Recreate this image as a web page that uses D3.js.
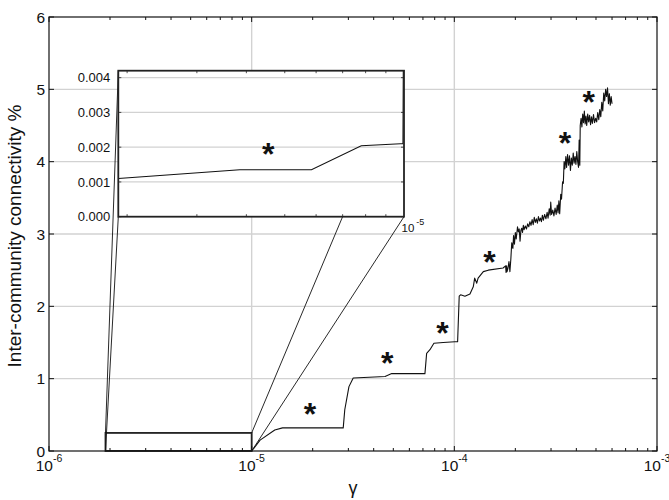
<!DOCTYPE html>
<html>
<head>
<meta charset="utf-8">
<script src="https://cdn.jsdelivr.net/npm/d3@7"></script>
<style>
  body { margin: 0; background: #fff; }
  svg { display: block; }
  text { font-family: "Liberation Sans", Arial, Helvetica, sans-serif; fill: #111; }
</style>
</head>
<body>
<svg id="chart" width="669" height="500"></svg>
<script>
// Resolution parameter sweep: inter-community connectivity (%) against gamma
const gammaValues = [
  1.9e-6, 3.85e-6, 5.84e-6, 7.8e-6, 9.8e-6, 9.94e-6, 1.02e-5, 1.1e-5, 1.3e-5, 1.42e-5,
  2.83e-5, 2.88e-5, 3.02e-5, 3.17e-5, 4.55e-5, 4.91e-5, 7.16e-5, 7.3e-5, 7.58e-5, 7.93e-5,
  8.81e-5, 1.006e-4, 1.038e-4, 1.057e-4, 1.074e-4, 1.128e-4, 1.194e-4, 1.24e-4, 1.26e-4, 1.29e-4,
  1.31e-4, 1.39e-4, 1.47e-4, 1.74e-4, 1.79e-4, 1.80e-4, 1.81e-4, 1.82e-4, 1.84e-4, 1.86e-4,
  1.88e-4, 1.90e-4, 1.92e-4, 1.945e-4, 1.96e-4, 1.98e-4, 2.00e-4, 2.02e-4, 2.05e-4, 2.07e-4,
  2.09e-4, 2.11e-4, 2.13e-4, 2.15e-4, 2.17e-4, 2.19e-4, 2.21e-4, 2.24e-4, 2.27e-4, 2.30e-4,
  2.33e-4, 2.36e-4, 2.39e-4, 2.42e-4, 2.45e-4, 2.48e-4, 2.51e-4, 2.54e-4, 2.57e-4, 2.60e-4,
  2.63e-4, 2.66e-4, 2.69e-4, 2.72e-4, 2.75e-4, 2.79e-4, 2.83e-4, 2.87e-4, 2.90e-4, 2.94e-4,
  2.97e-4, 2.99e-4, 3.02e-4, 3.06e-4, 3.10e-4, 3.14e-4, 3.18e-4, 3.22e-4, 3.25e-4, 3.28e-4,
  3.31e-4, 3.35e-4, 3.38e-4, 3.42e-4, 3.45e-4, 3.48e-4, 3.51e-4, 3.55e-4, 3.58e-4, 3.62e-4,
  3.66e-4, 3.70e-4, 3.74e-4, 3.78e-4, 3.82e-4, 3.86e-4, 3.90e-4, 3.94e-4, 3.98e-4, 4.02e-4,
  4.06e-4, 4.10e-4, 4.13e-4, 4.16e-4, 4.18e-4, 4.22e-4, 4.26e-4, 4.30e-4, 4.34e-4, 4.38e-4,
  4.42e-4, 4.46e-4, 4.50e-4, 4.55e-4, 4.60e-4, 4.65e-4, 4.70e-4, 4.75e-4, 4.80e-4, 4.86e-4,
  4.92e-4, 4.98e-4, 5.04e-4, 5.10e-4, 5.16e-4, 5.22e-4, 5.28e-4, 5.34e-4, 5.40e-4, 5.46e-4,
  5.52e-4, 5.58e-4, 5.64e-4, 5.70e-4, 5.76e-4, 5.82e-4, 5.88e-4, 5.94e-4, 6.00e-4
];
const connectivityValues = [
  0.0011, 0.00135, 0.00135, 0.00204, 0.0021, 0.0021, 0.03, 0.15, 0.29, 0.32,
  0.32, 0.57, 0.89, 1.01, 1.03, 1.07, 1.07, 1.35, 1.40, 1.49,
  1.50, 1.51, 1.51, 2.14, 2.16, 2.14, 2.17, 2.27, 2.39, 2.32,
  2.39, 2.48, 2.50, 2.53, 2.56, 2.47, 2.56, 2.48, 2.53, 2.62,
  2.48, 2.65, 2.88, 2.80, 2.98, 2.86, 3.02, 2.93, 3.10, 3.03,
  3.07, 2.90, 3.05, 3.08, 3.02, 3.12, 3.06, 3.11, 3.07, 3.14,
  3.10, 3.17, 3.12, 3.20, 3.13, 3.23, 3.16, 3.21, 3.15, 3.24,
  3.18, 3.22, 3.17, 3.26, 3.19, 3.27, 3.21, 3.30, 3.22, 3.35,
  3.26, 3.44, 3.27, 3.33, 3.25, 3.36, 3.27, 3.40, 3.29, 3.46,
  3.28, 3.55, 3.48, 3.72, 3.70, 4.00, 3.90, 4.07, 3.92, 4.10,
  3.95, 4.08, 3.88, 4.05, 3.95, 4.12, 3.98, 4.07, 3.96, 4.14,
  4.00, 3.92, 4.30, 3.95, 4.50, 4.60, 4.48, 4.66, 4.54, 4.70,
  4.52, 4.63, 4.50, 4.66, 4.55, 4.64, 4.51, 4.62, 4.53, 4.65,
  4.54, 4.60, 4.55, 4.68, 4.58, 4.72, 4.62, 4.82, 4.70, 4.95,
  4.84, 5.00, 4.90, 5.02, 4.80, 4.94, 4.78, 4.90, 4.80
];

// Asterisks marking the plateaus
const starGammas = [1.94e-5, 4.67e-5, 8.75e-5, 1.49e-4, 3.52e-4, 4.61e-4];
const starValues = [0.61, 1.32, 1.74, 2.72, 4.36, 4.93];
const insetStarGamma = [4.54e-6];
const insetStarValue = [0.00202];

// Axis ticks
const yTicks = [0, 1, 2, 3, 4, 5, 6];
const xTickExponents = [-6, -5, -4, -3];
const insetYTicks = [0, 0.001, 0.002, 0.003, 0.004];
const insetYTickLabels = ["0.000", "0.001", "0.002", "0.003", "0.004"];

// Zoomed region shown in the inset
const zoomGamma = [1.9e-6, 1e-5];
const zoomRange = [0, 0.25];
const insetRange = [0, 0.0042];

const svg = d3.select("#chart");

const x = d3.scaleLog().domain([1e-6, 1e-3]).range([49, 657]);
const y = d3.scaleLinear().domain([0, 6]).range([451, 17]);

const xi = d3.scaleLog().domain(zoomGamma).range([118.3, 404]);
const yi = d3.scaleLinear().domain(insetRange).range([216.7, 70.7]);

const data = gammaValues.map((g, i) => ({ g, v: connectivityValues[i] }));

const defs = svg.append("defs");
defs.append("clipPath").attr("id", "mainClip")
  .append("rect").attr("x", 49).attr("y", 17).attr("width", 608).attr("height", 434);
defs.append("clipPath").attr("id", "insetClip")
  .append("rect").attr("x", xi.range()[0]).attr("y", yi.range()[1])
  .attr("width", xi.range()[1] - xi.range()[0]).attr("height", yi.range()[0] - yi.range()[1]);

const gridColor = "#d2d2d2";

// Main grid
const grid = svg.append("g");
grid.selectAll("line.h").data(yTicks.slice(1, -1)).join("line")
  .attr("x1", x.range()[0]).attr("x2", x.range()[1])
  .attr("y1", d => y(d)).attr("y2", d => y(d))
  .attr("stroke", gridColor).attr("stroke-width", 1.4);
grid.selectAll("line.v").data(xTickExponents.slice(1, -1)).join("line")
  .attr("x1", d => x(Math.pow(10, d))).attr("x2", d => x(Math.pow(10, d)))
  .attr("y1", y.range()[0]).attr("y2", y.range()[1])
  .attr("stroke", gridColor).attr("stroke-width", 1.4);

// Main curve
const line = d3.line().x(d => x(d.g)).y(d => y(d.v));
svg.append("path").datum(data)
  .attr("clip-path", "url(#mainClip)")
  .attr("d", line).attr("fill", "none")
  .attr("stroke", "#111").attr("stroke-width", 1.1).attr("stroke-linejoin", "round");

// Asterisk markers
function drawStars(g, xs, ys, xScale, yScale) {
  const fs = 32;
  g.selectAll("text.star").data(xs.map((d, i) => [d, ys[i]])).join("text")
    .attr("class", "star")
    .attr("x", d => xScale(d[0]))
    .attr("y", d => yScale(d[1]) + 0.58 * fs)
    .attr("text-anchor", "middle")
    .attr("font-size", fs).attr("font-weight", "bold")
    .text("*");
}
drawStars(svg.append("g"), starGammas, starValues, x, y);

// Zoom rectangle and connector lines
svg.append("rect")
  .attr("x", x(zoomGamma[0])).attr("y", y(zoomRange[1]))
  .attr("width", x(zoomGamma[1]) - x(zoomGamma[0]))
  .attr("height", y(zoomRange[0]) - y(zoomRange[1]))
  .attr("fill", "none").attr("stroke", "#222").attr("stroke-width", 1.8);

const connectors = [
  [x(zoomGamma[0]), y(zoomRange[1]), xi.range()[0], yi.range()[1]],
  [x(zoomGamma[0]), y(zoomRange[0]), xi.range()[0], yi.range()[0]],
  [x(zoomGamma[1]), y(zoomRange[1]), xi.range()[1], yi.range()[1]],
  [x(zoomGamma[1]), y(zoomRange[0]), xi.range()[1], yi.range()[0]]
];
svg.append("g").selectAll("line").data(connectors).join("line")
  .attr("x1", d => d[0]).attr("y1", d => d[1]).attr("x2", d => d[2]).attr("y2", d => d[3])
  .attr("stroke", "#111").attr("stroke-width", 0.9);

// Inset
const inset = svg.append("g");
inset.append("rect")
  .attr("x", xi.range()[0]).attr("y", yi.range()[1])
  .attr("width", xi.range()[1] - xi.range()[0]).attr("height", yi.range()[0] - yi.range()[1])
  .attr("fill", "#fff");
inset.selectAll("line.grid").data(insetYTicks.slice(1)).join("line")
  .attr("x1", xi.range()[0]).attr("x2", xi.range()[1])
  .attr("y1", d => yi(d)).attr("y2", d => yi(d))
  .attr("stroke", gridColor).attr("stroke-width", 1.2);
const lineInset = d3.line().x(d => xi(d.g)).y(d => yi(d.v));
inset.append("path").datum(data)
  .attr("clip-path", "url(#insetClip)")
  .attr("d", lineInset).attr("fill", "none")
  .attr("stroke", "#111").attr("stroke-width", 1.1);
drawStars(inset.append("g"), insetStarGamma, insetStarValue, xi, yi);

// Inset ticks
const insetMinor = xi.ticks().filter(t => t > zoomGamma[0] && t < zoomGamma[1]);
inset.selectAll("line.tb").data(insetMinor).join("line")
  .attr("x1", d => xi(d)).attr("x2", d => xi(d))
  .attr("y1", yi.range()[0]).attr("y2", yi.range()[0] - 2.5)
  .attr("stroke", "#222").attr("stroke-width", 0.8);
inset.selectAll("line.tt").data(insetMinor).join("line")
  .attr("x1", d => xi(d)).attr("x2", d => xi(d))
  .attr("y1", yi.range()[1]).attr("y2", yi.range()[1] + 2.5)
  .attr("stroke", "#222").attr("stroke-width", 0.8);
inset.selectAll("line.tl").data(insetYTicks).join("line")
  .attr("x1", xi.range()[0]).attr("x2", xi.range()[0] + 3)
  .attr("y1", d => yi(d)).attr("y2", d => yi(d))
  .attr("stroke", "#222").attr("stroke-width", 0.8);
inset.selectAll("line.tr").data(insetYTicks).join("line")
  .attr("x1", xi.range()[1]).attr("x2", xi.range()[1] - 3)
  .attr("y1", d => yi(d)).attr("y2", d => yi(d))
  .attr("stroke", "#222").attr("stroke-width", 0.8);
inset.append("rect")
  .attr("x", xi.range()[0]).attr("y", yi.range()[1])
  .attr("width", xi.range()[1] - xi.range()[0]).attr("height", yi.range()[0] - yi.range()[1])
  .attr("fill", "none").attr("stroke", "#222").attr("stroke-width", 1.8);
inset.selectAll("text.yl").data(insetYTicks).join("text")
  .attr("x", xi.range()[0] - 8).attr("y", d => yi(d))
  .attr("dy", "0.36em").attr("text-anchor", "end")
  .attr("font-size", 13)
  .text((d, i) => insetYTickLabels[i]);
const insetXLabel = inset.append("text")
  .attr("x", xi(zoomGamma[1]) - 2.5).attr("y", yi.range()[0] + 15.5)
  .attr("font-size", 11.5).text("10");
insetXLabel.append("tspan").attr("dx", 2).attr("dy", -7).attr("font-size", 9).text("-5");

// Main axes box and ticks
const axes = svg.append("g");
const xAllTicks = x.ticks();
const isMajor = t => Math.abs(Math.log10(t) - Math.round(Math.log10(t))) < 1e-9;
axes.selectAll("line.xb").data(xAllTicks).join("line")
  .attr("x1", d => x(d)).attr("x2", d => x(d))
  .attr("y1", y.range()[0]).attr("y2", d => y.range()[0] - (isMajor(d) ? 5 : 3))
  .attr("stroke", "#111").attr("stroke-width", 1);
axes.selectAll("line.xt").data(xAllTicks).join("line")
  .attr("x1", d => x(d)).attr("x2", d => x(d))
  .attr("y1", y.range()[1]).attr("y2", d => y.range()[1] + (isMajor(d) ? 5 : 3))
  .attr("stroke", "#111").attr("stroke-width", 1);
axes.selectAll("line.yl").data(yTicks).join("line")
  .attr("x1", x.range()[0]).attr("x2", x.range()[0] + 5)
  .attr("y1", d => y(d)).attr("y2", d => y(d))
  .attr("stroke", "#111").attr("stroke-width", 1);
axes.selectAll("line.yr").data(yTicks).join("line")
  .attr("x1", x.range()[1]).attr("x2", x.range()[1] - 5)
  .attr("y1", d => y(d)).attr("y2", d => y(d))
  .attr("stroke", "#111").attr("stroke-width", 1);
axes.append("rect")
  .attr("x", x.range()[0]).attr("y", y.range()[1])
  .attr("width", x.range()[1] - x.range()[0]).attr("height", y.range()[0] - y.range()[1])
  .attr("fill", "none").attr("stroke", "#111").attr("stroke-width", 1.2);

// Tick labels
axes.selectAll("text.yt").data(yTicks).join("text")
  .attr("x", x.range()[0] - 4).attr("y", d => y(d))
  .attr("dy", "0.36em").attr("text-anchor", "end")
  .attr("font-size", 15.5).text(d => d);
const xLabels = axes.selectAll("text.xt").data(xTickExponents).join("text")
  .attr("x", d => x(Math.pow(10, d))).attr("y", 471)
  .attr("text-anchor", "middle").attr("font-size", 15.5)
  .text("10");
xLabels.append("tspan").attr("dy", -9).attr("font-size", 10.5).text(d => String(d));

// Axis titles
svg.append("text")
  .attr("transform", "translate(21,236) rotate(-90)")
  .attr("text-anchor", "middle").attr("font-size", 19)
  .text("Inter-community connectivity %");
svg.append("text")
  .attr("x", 353).attr("y", 494)
  .attr("text-anchor", "middle").attr("font-size", 18)
  .text("γ");
</script>
</body>
</html>
